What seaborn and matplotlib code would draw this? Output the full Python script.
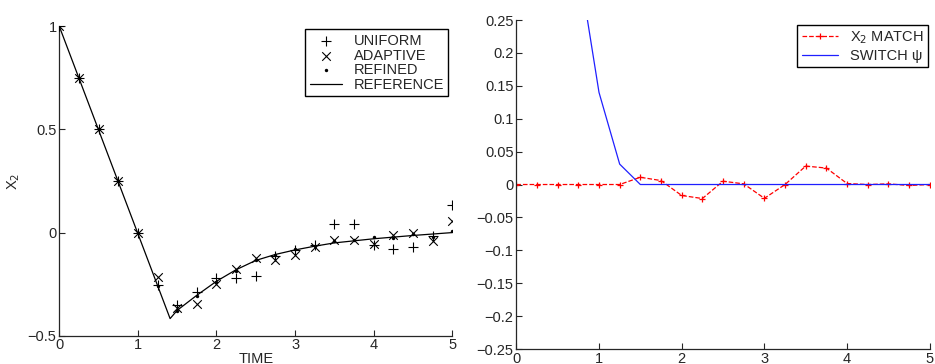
import matplotlib

matplotlib.use("Agg")

import matplotlib.pyplot as plt
import matplotlib.ticker as mticker
import seaborn as sns

# ---------------------------------------------------------------------------
# Dados
# ---------------------------------------------------------------------------
tempos = [0, 0.25, 0.5, 0.75, 1.0, 1.25, 1.5, 1.75, 2.0, 2.25, 2.5,
          2.75, 3.0, 3.25, 3.5, 3.75, 4.0, 4.25, 4.5, 4.75, 5.0]

uniforme = [1, 0.75, 0.5, 0.25, 0, -0.252, -0.35, -0.29, -0.22, -0.22, -0.21,
            -0.115, -0.085, -0.06, 0.04, 0.04, -0.06, -0.078, -0.07, -0.015, 0.134]
adaptativo = [1, 0.75, 0.5, 0.25, 0, -0.215, -0.365, -0.345, -0.247, -0.175, -0.123,
              -0.135, -0.11, -0.07, -0.034, -0.034, -0.057, -0.013, 0.0, -0.04, 0.055]
refinado = [1, 0.75, 0.5, 0.25, 0, -0.26, -0.38, -0.309, -0.24, -0.186, -0.135,
            -0.108, -0.082, -0.066, -0.041, -0.034, -0.023, -0.025, -0.006, -0.02, 0.008]

ref_t = [0, 1.41, 1.5, 1.75, 2.0, 2.25, 2.5, 2.75, 3.0, 3.25, 3.5,
         3.75, 4.0, 4.25, 4.5, 4.75, 5.0]
ref_x2 = [1, -0.417, -0.377, -0.304, -0.236, -0.18, -0.135, -0.106, -0.084, -0.066,
          -0.05, -0.04, -0.03, -0.022, -0.014, -0.007, 0.0]

match_x2 = [0, 0, 0, 0, 0, 0, 0.011, 0.006, -0.0167, -0.0213, 0.005,
            0.001, -0.021, 0.0, 0.028, 0.025, 0.0015, 0.0, 0.001, -0.0015, 0.0]

switch_t = [0, 0.25, 0.5, 0.75, 1.0, 1.25, 1.5, 1.75, 2.0, 2.5, 3.0, 3.5, 4.0, 4.5, 5.0]
switch_psi = [1.0, 0.78, 0.55, 0.337, 0.14, 0.031, 0, 0, 0, 0, 0, 0, 0, 0, 0]

ticks_esq = [-0.5, 0, 0.5, 1]
ticks_dir = [-0.25, -0.2, -0.15, -0.1, -0.05, 0, 0.05, 0.1, 0.15, 0.2, 0.25]

sns.set_style("ticks")
plt.rcParams.update({
    "font.family": ["Liberation Sans", "DejaVu Sans"],
    "font.size": 10.5,
    "xtick.direction": "in",
    "ytick.direction": "in",
    "xtick.major.size": 4,
    "ytick.major.size": 4,
    "axes.linewidth": 0.9,
    "axes.unicode_minus": True,
})


def _fmt(valor, _pos) -> str:
    return f"{valor:g}".replace("-", "\u2212")


fig = plt.figure(figsize=(9.35, 3.64), dpi=100)
ax1 = fig.add_axes([0.0634, 0.0777, 0.4203, 0.85])
ax2 = fig.add_axes([0.5522, 0.0412, 0.4422, 0.9038])

# --- painel esquerdo -------------------------------------------------------
sns.scatterplot(x=tempos, y=uniforme, marker="+", s=60, color="k",
                linewidth=0.8, label="UNIFORM", ax=ax1, zorder=3)
sns.scatterplot(x=tempos, y=adaptativo, marker="x", s=38, color="k",
                linewidth=0.8, label="ADAPTIVE", ax=ax1, zorder=3)
sns.scatterplot(x=tempos, y=refinado, marker="o", s=6, color="k",
                linewidth=0, label="REFINED", ax=ax1, zorder=3)
sns.lineplot(x=ref_t, y=ref_x2, color="k", linewidth=0.9, label="REFERENCE",
             ax=ax1, sort=False)

ax1.set_xlim(0, 5)
ax1.set_ylim(-0.5, 1)
ax1.set_xticks(range(6))
ax1.set_yticks(ticks_esq)
ax1.yaxis.set_major_formatter(mticker.FuncFormatter(_fmt))
ax1.set_xlabel("TIME", labelpad=0)
ax1.set_ylabel("X$_2$", labelpad=4)
ax1.legend(loc="upper right", bbox_to_anchor=(0.99, 0.99), borderaxespad=0,
           fancybox=False, edgecolor="k", framealpha=1, handlelength=2.2,
           handletextpad=0.8, labelspacing=0.05, borderpad=0.3)

# --- painel direito --------------------------------------------------------
sns.lineplot(x=tempos, y=match_x2, color="r", linestyle="--", linewidth=0.9,
             marker="+", markersize=5, markeredgewidth=0.9, markeredgecolor="r",
             label="X$_2$ MATCH", ax=ax2, sort=False)
sns.lineplot(x=switch_t, y=switch_psi, color="#1f1fff", linewidth=0.9,
             label="SWITCH \u03c8", ax=ax2, sort=False)

ax2.set_xlim(0, 5)
ax2.set_ylim(-0.25, 0.25)
ax2.set_xticks(range(6))
ax2.set_yticks(ticks_dir)
ax2.yaxis.set_major_formatter(mticker.FuncFormatter(_fmt))
ax2.set_xlabel("")
ax2.set_ylabel("")
ax2.legend(loc="upper right", bbox_to_anchor=(0.996, 0.985), borderaxespad=0,
           fancybox=False, edgecolor="k", framealpha=1, handlelength=2.5,
           handletextpad=0.8, labelspacing=0.2, borderpad=0.3)

for ax in (ax1, ax2):
    sns.despine(ax=ax)
    ax.tick_params(length=4, width=0.8, pad=2)

fig.savefig("out.png", dpi=100)
